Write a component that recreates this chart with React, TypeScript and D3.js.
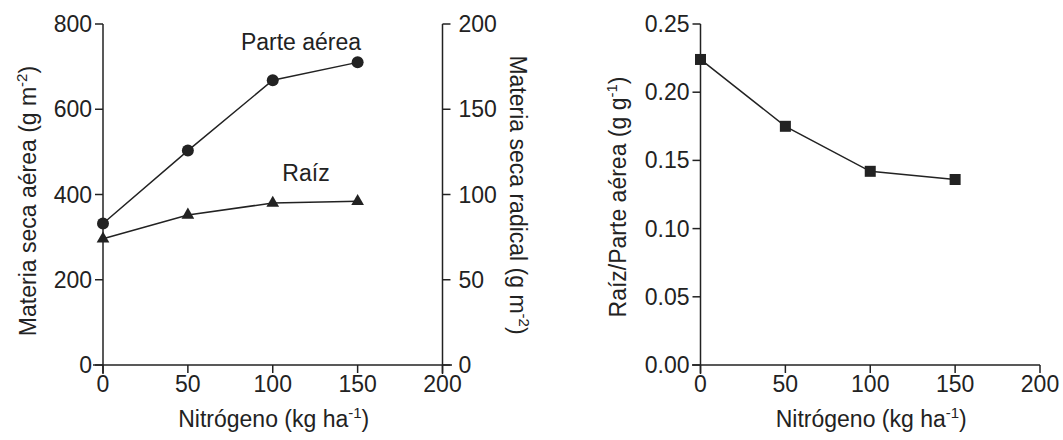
import React from "react";
import * as d3 from "d3";

const nitrogen = [0, 50, 100, 150];
const parteAerea = [332, 503, 668, 710];
const raiz = [74, 88, 95, 96];
const ratio = [0.224, 0.175, 0.142, 0.136];

const xTicks = [0, 50, 100, 150, 200];
const leftTicks = [0, 200, 400, 600, 800];
const rightTicks = [0, 50, 100, 150, 200];
const ratioTicks = [0, 0.05, 0.1, 0.15, 0.2, 0.25];

const W = 1063;
const H = 440;
const FONT = "'Liberation Sans', Arial, sans-serif";
const INK = "#222";
const FS = 23;
const SUP = 15;

export default function App() {
  const top = 24;
  const bottom = 365;
  const xL = d3.scaleLinear().domain([0, 200]).range([103, 442.5]);
  const xR = d3.scaleLinear().domain([0, 200]).range([700.5, 1040]);
  const yL = d3.scaleLinear().domain([0, 800]).range([bottom, top]);
  const yLR = d3.scaleLinear().domain([0, 200]).range([bottom, top]);
  const yR = d3.scaleLinear().domain([0, 0.25]).range([bottom, top]);
  const tick = 8;
  const sw = 1.5;

  const lineL = d3.line<number>().x((_, i) => xL(nitrogen[i])).y((d) => yL(d));
  const lineRaiz = d3.line<number>().x((_, i) => xL(nitrogen[i])).y((d) => yLR(d));
  const lineRatio = d3.line<number>().x((_, i) => xR(nitrogen[i])).y((d) => yR(d));
  const tri = d3.symbol().type(d3.symbolTriangle).size(70)() as string;

  const xAxis = (x: d3.ScaleLinear<number, number>, x0: number, x1: number, key: string) => (
    <g key={key}>
      <line x1={x0} x2={x1} y1={bottom} y2={bottom} stroke={INK} strokeWidth={sw} />
      {xTicks.map((t) => (
        <g key={t}>
          <line x1={x(t)} x2={x(t)} y1={bottom} y2={bottom + tick} stroke={INK} strokeWidth={sw} />
          <text x={x(t)} y={bottom + 27} textAnchor="middle" fontSize={FS} fill={INK}>
            {t}
          </text>
        </g>
      ))}
      <text x={(x(0) + x(200)) / 2 + 1} y={bottom + 62} textAnchor="middle" fontSize={FS} fill={INK}>
        Nitrógeno (kg ha
        <tspan dy={-9} fontSize={SUP}>-1</tspan>
        <tspan dy={9}>)</tspan>
      </text>
    </g>
  );

  return (
    <svg
      width={W}
      height={H}
      style={{ position: "absolute", left: 0, top: 0, background: "#fff" }}
      fontFamily={FONT}
    >
      <rect width={W} height={H} fill="#fff" />
      {/* Left panel */}
      {xAxis(xL, 93, 452, "xl")}
      <line x1={xL(0)} x2={xL(0)} y1={top} y2={bottom + 9} stroke={INK} strokeWidth={sw} />
      {leftTicks.map((t) => (
        <g key={t}>
          <line x1={xL(0) - tick} x2={xL(0)} y1={yL(t)} y2={yL(t)} stroke={INK} strokeWidth={sw} />
          <text x={xL(0) - 11} y={yL(t) + 8} textAnchor="end" fontSize={FS} fill={INK}>
            {t}
          </text>
        </g>
      ))}
      <line x1={xL(200)} x2={xL(200)} y1={top} y2={bottom + 9} stroke={INK} strokeWidth={sw} />
      {rightTicks.map((t) => (
        <g key={t}>
          <line x1={xL(200)} x2={xL(200) + tick} y1={yLR(t)} y2={yLR(t)} stroke={INK} strokeWidth={sw} />
          <text x={xL(200) + 16} y={yLR(t) + 8} textAnchor="start" fontSize={FS} fill={INK}>
            {t}
          </text>
        </g>
      ))}
      <text transform={`translate(36,201) rotate(-90)`} textAnchor="middle" fontSize={FS} fill={INK}>
        Materia seca aérea (g m
        <tspan dy={-9} fontSize={SUP}>-2</tspan>
        <tspan dy={9}>)</tspan>
      </text>
      <text transform={`translate(510,195) rotate(90)`} textAnchor="middle" fontSize={FS} fill={INK}>
        Materia seca radical (g m
        <tspan dy={-9} fontSize={SUP}>-2</tspan>
        <tspan dy={9}>)</tspan>
      </text>
      <path d={lineL(parteAerea) || ""} fill="none" stroke={INK} strokeWidth={sw} />
      {parteAerea.map((v, i) => (
        <circle key={i} cx={xL(nitrogen[i])} cy={yL(v)} r={6} fill={INK} />
      ))}
      <path d={lineRaiz(raiz) || ""} fill="none" stroke={INK} strokeWidth={sw} />
      {raiz.map((v, i) => (
        <path key={i} d={tri} transform={`translate(${xL(nitrogen[i])},${yLR(v)})`} fill={INK} />
      ))}
      <text x={301} y={50} textAnchor="middle" fontSize={FS} fill={INK}>
        Parte aérea
      </text>
      <text x={306} y={181} textAnchor="middle" fontSize={FS} fill={INK}>
        Raíz
      </text>

      {/* Right panel */}
      {xAxis(xR, 692, 1040, "xr")}
      <line x1={xR(0)} x2={xR(0)} y1={top} y2={bottom + 9} stroke={INK} strokeWidth={sw} />
      {ratioTicks.map((t) => (
        <g key={t}>
          <line x1={xR(0) - tick} x2={xR(0)} y1={yR(t)} y2={yR(t)} stroke={INK} strokeWidth={sw} />
          <text x={xR(0) - 11} y={yR(t) + 8} textAnchor="end" fontSize={FS} fill={INK}>
            {t.toFixed(2)}
          </text>
        </g>
      ))}
      <text transform={`translate(626,197) rotate(-90)`} textAnchor="middle" fontSize={FS} fill={INK}>
        Raíz/Parte aérea (g g
        <tspan dy={-9} fontSize={SUP}>-1</tspan>
        <tspan dy={9}>)</tspan>
      </text>
      <path d={lineRatio(ratio) || ""} fill="none" stroke={INK} strokeWidth={sw} />
      {ratio.map((v, i) => (
        <rect key={i} x={xR(nitrogen[i]) - 5.5} y={yR(v) - 5.5} width={11} height={11} fill={INK} />
      ))}
    </svg>
  );
}
